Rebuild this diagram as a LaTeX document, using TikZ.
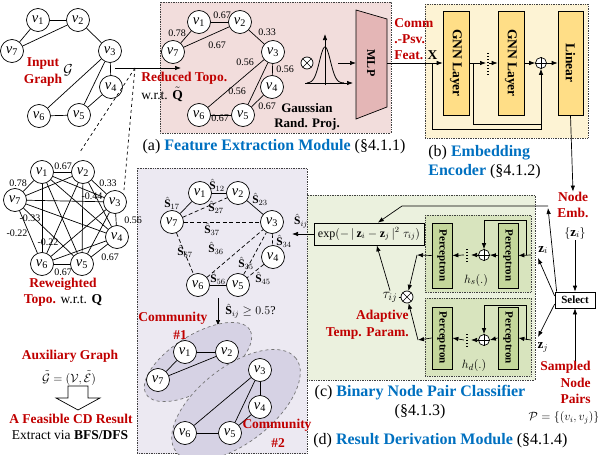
\documentclass[tikz,border=0pt]{standalone}
\usepackage{fontspec}
\setmainfont{Liberation Serif}
\usepackage{amsmath}
\usetikzlibrary{arrows.meta,shapes.geometric,calc}
\definecolor{cred}{RGB}{192,0,0}
\definecolor{cblue}{RGB}{0,112,192}
\definecolor{pinkbg}{RGB}{242,221,220}
\definecolor{mlpfill}{RGB}{228,182,182}
\definecolor{yelbg}{RGB}{253,243,212}
\definecolor{gnnfill}{RGB}{255,222,135}
\definecolor{greenbg}{RGB}{235,241,222}
\definecolor{greenin}{RGB}{216,228,190}
\definecolor{percfill}{RGB}{196,215,155}
\definecolor{lavbg}{RGB}{236,233,242}
\definecolor{ellfill}{RGB}{214,210,228}
\newcommand{\myfs}[1]{\fontsize{#1}{#1}\selectfont}
\newcommand{\mySh}[1]{$\hat{\mathbf{S}}_{#1}$}
\newcommand{\myv}[1]{\textit{v}\textsubscript{#1}}
\tikzset{
  vn/.style={circle,draw,fill=white,minimum size=23pt,inner sep=0pt,font=\myfs{14.5}},
  wt/.style={font=\myfs{10},inner sep=0.5pt},
  rl/.style={font=\fontsize{13.5}{16.5}\selectfont\bfseries,text=cred,align=center,inner sep=0pt},
  arr/.style={-{Latex[length=6pt,width=4.5pt]}},
  dbox/.style={draw=black!75,densely dotted,line width=0.7pt},
  captxt/.style={font=\fontsize{16}{19.5}\selectfont,inner sep=0pt},
  sl/.style={font=\myfs{11.5},inner sep=0pt},
  opl/.style={circle,draw,fill=white,minimum size=11pt,inner sep=0pt},
  rectg/.style={draw,fill=gnnfill,minimum width=26pt,minimum height=104pt,inner sep=0pt},
  perc/.style={draw,fill=percfill,minimum width=20pt,inner sep=0pt},
  rtext/.style={rotate=-90,font=\fontsize{13.5}{13.5}\selectfont\bfseries,inner sep=0pt},
  ptext/.style={rotate=-90,font=\fontsize{11}{11}\selectfont\bfseries,inner sep=0pt},
  dsh/.style={dash pattern=on 4pt off 2.5pt}
}
\begin{document}
\begin{tikzpicture}[x=1pt,y=-1pt,line width=0.7pt]
\useasboundingbox (0,0) rectangle (598,455);

% ===== background boxes
\draw[dbox,fill=pinkbg] (160,2) rectangle (391,133);
\draw[dbox,fill=yelbg] (425,4) rectangle (588,138);
\draw[dbox,fill=lavbg] (137,168) rectangle (307,453.5);
\draw[dbox,fill=greenbg] (307,195) rectangle (535,380);
\draw[dbox,fill=greenin] (425,215) rectangle (531,292);
\draw[dbox,fill=greenin] (425,298) rectangle (531,376);

% ===== input graph
\node[vn] (a1) at (38,20) {\myv{1}};
\node[vn] (a2) at (78,20) {\myv{2}};
\node[vn] (a7) at (12,51) {\myv{7}};
\node[vn] (a3) at (110,51) {\myv{3}};
\node[vn] (a4) at (111,87) {\myv{4}};
\node[vn] (a5) at (79,115) {\myv{5}};
\node[vn] (a6) at (39,116) {\myv{6}};
\foreach \i/\j in {1/2,1/7,7/2,2/3,3/4,3/6,3/5,4/5,5/6} \draw (a\i) -- (a\j);
\node[rl] at (43,72) {Input\\Graph};
\node[font=\myfs{14},inner sep=0pt] at (68,70) {$\mathcal{G}$};

\coordinate (inS) at (115,68);
\coordinate (inE) at (181,68);
\coordinate (apex) at (135,68);
\coordinate (dl) at (80,152);
\coordinate (dr) at (124,190);
\draw[arr] (inS) -- (inE);
\draw[dashed] (apex) -- (dl);
\draw[dashed] (apex) -- (dr);

% ===== reweighted graph
\node[vn] (c1) at (42,172) {\myv{1}};
\node[vn] (c2) at (83,172) {\myv{2}};
\node[vn] (c7) at (15,200) {\myv{7}};
\node[vn] (c3) at (115,202) {\myv{3}};
\node[vn] (c4) at (117,237) {\myv{4}};
\node[vn] (c5) at (82,264) {\myv{5}};
\node[vn] (c6) at (42,264) {\myv{6}};
\foreach \i/\j in {1/2,1/3,1/4,1/5,1/6,1/7,2/3,2/4,2/5,2/6,2/7,3/4,3/5,3/6,3/7,4/5,4/6,4/7,5/6,5/7,6/7}
  \draw (c\i) -- (c\j);
\node[wt] at (18,183) {0.78};
\node[wt] at (63,166) {0.67};
\node[wt] at (108,183) {0.33};
\node[wt] at (92,196) {-0.44};
\node[wt] at (133,220) {0.56};
\node[wt] at (30,218) {-0.33};
\node[wt] at (17,233) {-0.22};
\node[wt] at (48,242) {-0.22};
\node[wt] at (110,257) {0.67};
\node[wt] at (63,272) {0.67};
\node[rl] at (63,284) {Reweighted};
\node[font=\myfs{13.5},inner sep=0pt] at (63,300) {\textcolor{cred}{\bfseries Topo.} w.r.t. $\mathbf{Q}$};

% ===== feature extraction (pink)
\node[vn] (b1) at (199,22) {\myv{1}};
\node[vn] (b2) at (240,22) {\myv{2}};
\node[vn] (b7) at (173,52) {\myv{7}};
\node[vn] (b3) at (273,52) {\myv{3}};
\node[vn] (b4) at (272,87) {\myv{4}};
\node[vn] (b5) at (243,115) {\myv{5}};
\node[vn] (b6) at (199,115) {\myv{6}};
\foreach \i/\j in {1/2,1/7,7/2,2/3,3/4,3/6,3/5,4/5,5/6} \draw (b\i) -- (b\j);
\node[wt] at (222,15) {0.67};
\node[wt] at (177,33) {0.78};
\node[wt] at (217,45) {0.67};
\node[wt] at (267,32) {0.33};
\node[wt] at (245,62) {0.56};
\node[wt] at (285,69) {0.56};
\node[wt] at (237,91) {0.56};
\node[wt] at (267,106) {0.67};
\node[wt] at (220,118) {0.67};
\node[rl,anchor=west] at (141,78) {Reduced Topo.};
\node[font=\myfs{13.5},inner sep=0pt,anchor=west] at (141,94) {w.r.t. $\tilde{\mathbf{Q}}$};

\node[opl,minimum size=12pt] (ox1) at (307,63) {};
\draw (ox1.north west) -- (ox1.south east) (ox1.north east) -- (ox1.south west);
\draw[arr] (325,85) -- (325,34);
\draw[arr] (305,83) -- (353,83);
\draw[line width=0.8pt] plot[domain=-18:19,samples=60,smooth] ({325+\x},{83-36*exp(-(\x*\x)/(2*30))});
\draw[arr] (338,63) -- (356,63);
\node[font=\fontsize{13}{15}\selectfont\bfseries,align=center,inner sep=0pt] at (307,117) {Gaussian\\Rand. Proj.};

\coordinate (m1) at (356,10);
\coordinate (m2) at (387,19);
\coordinate (m3) at (387,107);
\coordinate (m4) at (356,119);
\draw[fill=mlpfill] (m1) -- (m2) -- (m3) -- (m4) -- cycle;
\node[rotate=-90,font=\myfs{12}\bfseries,inner sep=0pt] (mlp) at (371,63) {MLP};
\coordinate (mlpR) at (387,63);

% ===== embedding encoder
\node[rectg] (g1) at (456,63) {};
\node[rtext] at (g1) {GNN Layer};
\node[rectg] (g2) at (511,63) {};
\node[rtext] at (g2) {GNN Layer};
\node[rectg,minimum width=25pt] (lin) at (570.5,63) {};
\node[rtext] at (lin) {Linear};
\node[opl] (op1) at (541,63) {};
\draw (op1.north) -- (op1.south) (op1.east) -- (op1.west);

\draw[arr] (mlpR) -- (g1.west);
\node[font=\fontsize{13.5}{16}\selectfont\bfseries,text=cred,align=left,inner sep=0pt,anchor=north west] at (394,18) {Comm\\.-Psv.\\Feat. \textcolor{black}{X}};
\draw[arr] (g1.east) -- (486,63);
\draw[line width=1.6pt,dash pattern=on 1.4pt off 1.6pt] (488,53) -- (488,75);
\draw[arr] (489,63) -- (g2.west);
\draw[arr] (g2.east) -- (op1.west);
\draw[arr] (op1.east) -- (lin.west);
\draw[arr] (432,63) |- (541,129) -- (op1.south);
\draw (473,63) |- (541,124);

% ===== node embedding / select
\node[rl] (ne) at (573,205) {Node\\Emb.};
\draw[arr] (lin.south) -- (ne.north);
\node[font=\myfs{13},inner sep=1pt] (zset) at (575,233) {$\{\mathbf{z}_i\}$};
\node[draw,fill=white,minimum width=40pt,minimum height=16pt,inner sep=0pt,font=\myfs{11}\bfseries] (sel) at (575,300) {Select};
\draw[arr] (zset.south) -- (sel.north);
\node[rl,align=right,anchor=north east] (snp) at (591,361) {Sampled\\Node\\Pairs};
\draw[arr] (sel.south |- snp.north) -- (sel.south);
\node[font=\myfs{12},inner sep=0pt] at (564,418) {$\mathcal{P}=\{(v_i,v_j)\}$};

% ===== binary node pair classifier (green)
\node[draw,minimum width=110pt,minimum height=22pt,inner sep=1pt,font=\myfs{12}] (exp) at (369,234) {$\exp(-\,|\,\mathbf{z}_i-\mathbf{z}_j\,|^2\;\tau_{ij})$};
\node[perc,minimum height=65pt] (p1) at (442,255.5) {};
\node[ptext] at (p1) {Perceptron};
\node[perc,minimum height=65pt] (p2) at (508,255.5) {};
\node[ptext] at (p2) {Perceptron};
\node[perc,minimum height=62pt] (p3) at (442,338) {};
\node[ptext] at (p3) {Perceptron};
\node[perc,minimum height=62pt] (p4) at (508,338) {};
\node[ptext] at (p4) {Perceptron};
\node[opl] (os) at (484,255) {};
\draw (os.north) -- (os.south) (os.east) -- (os.west);
\node[opl] (od) at (484,340) {};
\draw (od.north) -- (od.south) (od.east) -- (od.west);
\node[opl,minimum size=12pt] (ox) at (407,297) {};
\draw (ox.north west) -- (ox.south east) (ox.north east) -- (ox.south west);

% h_s path
\draw[arr] (531,255) -- (p2.east);
\draw[arr] (526,255) -- (526,220) -| (os.north);
\draw[arr] (p2.west) -- (os.east);
\draw[arr] (os.west) -- (471,255);
\draw[line width=1.6pt,dash pattern=on 1.4pt off 1.6pt] (467,249) -- (467,262);
\draw[arr] (464,255) -- (p1.east);
\coordinate (hsout) at (417,255);
\draw[arr] (p1.west) -- (hsout);
\draw[arr] (hsout) -- (ox);
\node[font=\myfs{13},inner sep=0pt] at (476,280) {$h_s(.)$};
% h_d path
\draw[arr] (531,340) -- (p4.east);
\draw[arr] (526,340) -- (526,305) -| (od.north);
\draw[arr] (p4.west) -- (od.east);
\draw[arr] (od.west) -- (471,340);
\draw[line width=1.6pt,dash pattern=on 1.4pt off 1.6pt] (467,334) -- (467,347);
\draw[arr] (464,340) -- (p3.east);
\coordinate (hdout) at (418,340);
\draw[arr] (p3.west) -- (hdout);
\draw[arr] (hdout) -- (ox);
\node[font=\myfs{13},inner sep=0pt] at (474,365) {$h_d(.)$};

\node[font=\myfs{14},inner sep=1pt] (tau) at (390,297) {$\tau_{ij}$};
\draw (tau.east) -- (ox.west);
\draw[arr] (tau.north) -- ($(exp.south west)!0.57!(exp.south east)$);
\node[rl,align=right,anchor=east] at (409,325) {Adaptive\\Temp. Param.};

% select -> z_i, z_j and top path
\coordinate (topc) at (548,206);
\coordinate (topl) at (402,206);
\draw[arr] ($(sel.north west)+(2,0)$) -- (548,208);
\draw[arr] (topc) -- (topl) -- ($(exp.north west)!0.58!(exp.north east)$);
\draw[arr] ($(sel.west)+(0,-4)$) -- (538,258);
\draw[arr] ($(sel.west)+(0,4)$) -- (538,337);
\node[font=\myfs{13},inner sep=0pt] at (543,250) {$\mathbf{z}_i$};
\node[font=\myfs{13},inner sep=0pt] at (543,347) {$\mathbf{z}_j$};

% exp -> S_ij
\coordinate (sij) at (292,234);
\draw[arr] (exp.west) -- (sij);
\node[sl] at (301,221) {\mySh{ij}};

% ===== result derivation (lavender)
\node[vn] (d1) at (200,193) {\myv{1}};
\node[vn] (d2) at (238,193) {\myv{2}};
\node[vn] (d7) at (172,222) {\myv{7}};
\node[vn] (d3) at (272,222) {\myv{3}};
\node[vn] (d4) at (273,257) {\myv{4}};
\node[vn] (d5) at (238,285) {\myv{5}};
\node[vn] (d6) at (198,285) {\myv{6}};
\foreach \i/\j in {1/2,1/7,2/3,5/6} \draw (d\i) -- (d\j);
\foreach \i/\j in {7/2,7/3,3/4,7/6,6/3,5/3,4/5} \draw[dsh] (d\i) -- (d\j);
\node[sl] at (217,185) {\mySh{12}};
\node[sl] at (172,203) {\mySh{17}};
\node[sl] at (216,207) {\mySh{27}};
\node[sl] at (260,199) {\mySh{23}};
\node[sl] at (212,229) {\mySh{37}};
\node[sl] at (284,241) {\mySh{34}};
\node[sl] at (185,251) {\mySh{67}};
\node[sl] at (216,248) {\mySh{36}};
\node[sl] at (246,263) {\mySh{35}};
\node[sl] at (263,278) {\mySh{45}};
\node[sl] at (218,278) {\mySh{56}};
\coordinate (dn1) at (218,298);
\coordinate (dn2) at (218,326);
\draw[arr] (dn1) -- (dn2);
\node[font=\myfs{12},inner sep=0pt,anchor=west] at (225,311) {$\hat{\mathbf{S}}_{ij}\geq 0.5$?};

\node[ellipse,draw=black!55,dashed,fill=ellfill,minimum width=122pt,minimum height=54pt,rotate=32] (el1) at (198,362) {};
\node[ellipse,draw=black!55,dashed,fill=ellfill,minimum width=152pt,minimum height=76pt,rotate=38] (el2) at (236,405) {};
\node[vn] (e1) at (185,352) {\myv{1}};
\node[vn] (e2) at (227,352) {\myv{2}};
\node[vn] (e7) at (158,380) {\myv{7}};
\node[vn] (e3) at (260,370) {\myv{3}};
\node[vn] (e4) at (260,407) {\myv{4}};
\node[vn] (e5) at (230,433) {\myv{5}};
\node[vn] (e6) at (185,433) {\myv{6}};
\foreach \i/\j in {1/2,1/7,7/2,3/4,3/6,3/5,4/5,5/6} \draw (e\i) -- (e\j);
\node[rl] at (173,318) {Community};
\node[rl] at (180,335) {\#1};
\node[rl] at (277,425) {Community};
\node[rl] at (278,443) {\#2};

% ===== left bottom
\node[rl] at (70,356) {Auxiliary Graph};
\node[font=\myfs{13},inner sep=0pt] at (69,378) {$\tilde{\mathcal{G}}=(\mathcal{V},\tilde{\mathcal{E}})$};
\draw[fill=white] (68,386) -- (88,386) -- (88,398) -- (100,398) -- (78,410) -- (56,398) -- (68,398) -- cycle;
\node[rl] at (71,419) {A Feasible CD Result};
\node[font=\myfs{13.5},inner sep=0pt] at (70,435) {Extract via \textbf{BFS/DFS}};

% ===== captions
\node[captxt] at (274,147) {(a) \textcolor{cblue}{\bfseries Feature Extraction Module} (§4.1.1)};
\node[captxt,align=left,anchor=west] at (428,162) {(b) \textcolor{cblue}{\bfseries Embedding}\\\textcolor{cblue}{\bfseries Encoder} (§4.1.2)};
\node[captxt,align=center] at (420,402) {(c) \textcolor{cblue}{\bfseries Binary Node Pair Classifier}\\(§4.1.3)};
\node[captxt,anchor=west] at (313,441) {(d) \textcolor{cblue}{\bfseries Result Derivation Module} (§4.1.4)};
\end{tikzpicture}
\end{document}
